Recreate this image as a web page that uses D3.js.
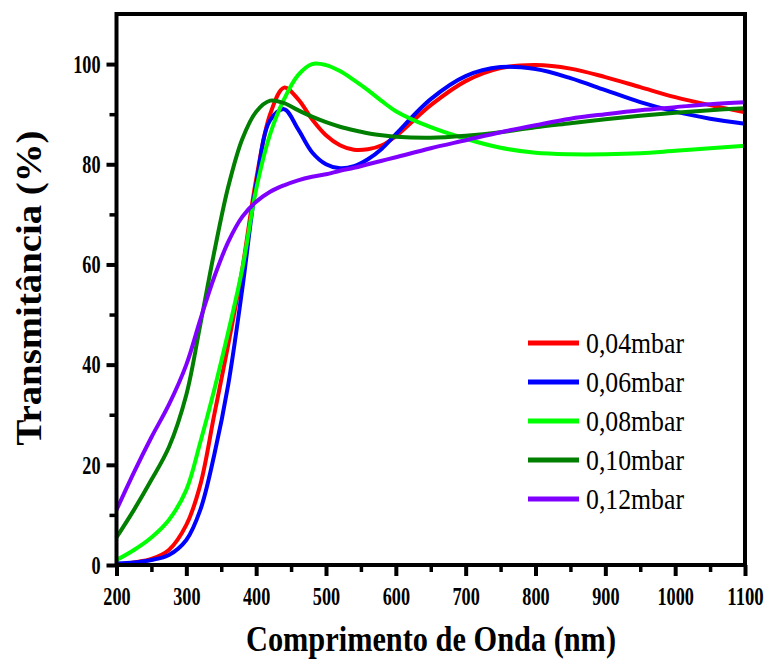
<!DOCTYPE html>
<html>
<head>
<meta charset="utf-8">
<script src="https://cdn.jsdelivr.net/npm/d3@7"></script>
<style>
body { margin: 0; background: #fff; }
text { font-family: "Liberation Serif", "Times New Roman", serif; }
</style>
</head>
<body>
<script>
// wavelength grid (nm)
var wavelengths = [200,225,250,275,300,320,340,360,380,400,420,440,460,480,500,520,540,560,580,600,650,700,750,800,850,900,950,1000,1050,1100];

var t004 = [0,0.5,1.2,3,8,16,30,44,59,77,90,95.3,93,89,85.8,83.8,82.9,83,83.8,85.6,91.8,96.6,99.2,99.8,99.1,97.4,95.4,93.4,91.8,90.4];
var t006 = [0.3,0.5,1,2,5,11,22,36,55,76,88.8,91,87,82.4,80,79.2,79.6,81,83.1,86,93,97.6,99.4,99,97.2,94.8,92.4,90.5,89.1,88.1];
var t008 = [1,3,5.5,9,15,24.5,35,46.5,59,75,86,93,97.8,100,99.8,98.6,96.8,94.8,92.6,90.6,87.4,85.1,83.3,82.3,82,82,82.2,82.7,83.2,83.7];
var t010 = [5.5,11,17,23.5,34,48,62.5,75.5,85,90.5,92.7,92.2,90.8,89.5,88.4,87.5,86.8,86.2,85.8,85.5,85.3,85.7,86.4,87.4,88.2,89,89.7,90.3,90.8,91.2];
var t012 = [11,18.5,25.5,32,40,49,57.5,64.5,69.5,72.5,74.5,75.8,76.8,77.5,78,78.7,79.3,80,80.7,81.4,83.2,84.8,86.4,87.8,89.1,90,90.8,91.4,92,92.4];

var seriesNames = ["0,04mbar", "0,06mbar", "0,08mbar", "0,10mbar", "0,12mbar"];
var seriesValues = [t004, t006, t008, t010, t012];
var seriesColors = ["#ff0000", "#0000ff", "#00ff00", "#007f00", "#8000ff"];

var xTicks = [200,300,400,500,600,700,800,900,1000,1100];
var yTicks = [0,20,40,60,80,100];

var pLeft = 116.5, pRight = 745, pTop = 14, pBottom = 565;

var svg = d3.select("body").append("svg")
    .attr("width", 767)
    .attr("height", 660);

var x = d3.scaleLinear().domain([200, 1100]).range([pLeft, pRight]);
var y = d3.scaleLinear().domain([0, 110]).range([pBottom, pTop]);

// minor ticks
var xMinor = d3.range(250, 1100, 100);
var yMinor = d3.range(10, 110, 20);

svg.append("g")
    .attr("transform", "translate(0," + pBottom + ")")
    .call(d3.axisBottom(x).tickValues(xMinor).tickSize(7).tickFormat(""))
    .call(function(g){ g.select(".domain").remove(); })
    .selectAll("line").attr("stroke-width", 3.5);

svg.append("g")
    .attr("transform", "translate(" + pLeft + ",0)")
    .call(d3.axisLeft(y).tickValues(yMinor).tickSize(7).tickFormat(""))
    .call(function(g){ g.select(".domain").remove(); })
    .selectAll("line").attr("stroke-width", 3.5);

function styleLabels(sel) {
    sel.selectAll("text")
        .attr("font-family", "'Liberation Serif', 'Times New Roman', serif")
        .attr("font-size", 26)
        .attr("font-weight", "bold")
        .attr("fill", "#000")
        .attr("textLength", function(d){ return String(d).length * 9.1; })
        .attr("lengthAdjust", "spacingAndGlyphs");
}

// major ticks + labels
var gx = svg.append("g")
    .attr("transform", "translate(0," + pBottom + ")")
    .call(d3.axisBottom(x).tickValues(xTicks).tickSize(11).tickPadding(11).tickFormat(d3.format("d")));
gx.select(".domain").remove();
gx.selectAll("line").attr("stroke-width", 4);
styleLabels(gx);

var gy = svg.append("g")
    .attr("transform", "translate(" + pLeft + ",0)")
    .call(d3.axisLeft(y).tickValues(yTicks).tickSize(10).tickPadding(6).tickFormat(d3.format("d")));
gy.select(".domain").remove();
gy.selectAll("line").attr("stroke-width", 4);
styleLabels(gy);

// curves
var line = d3.line()
    .x(function(d){ return x(d[0]); })
    .y(function(d){ return y(d[1]); })
    .curve(d3.curveCatmullRom.alpha(0.5));

seriesValues.forEach(function(vals, i) {
    var pts = wavelengths.map(function(w, j){ return [w, vals[j]]; });
    svg.append("path")
        .datum(pts)
        .attr("fill", "none")
        .attr("stroke", seriesColors[i])
        .attr("stroke-width", 4)
        .attr("d", line);
});

// frame
svg.append("rect")
    .attr("x", pLeft)
    .attr("y", pTop)
    .attr("width", pRight - pLeft)
    .attr("height", pBottom - pTop)
    .attr("fill", "none")
    .attr("stroke", "#000")
    .attr("stroke-width", 4);

// legend
var legend = svg.append("g").attr("class", "legend");
seriesNames.forEach(function(name, i) {
    var ly = 343 + i * 39;
    legend.append("line")
        .attr("x1", 528).attr("x2", 579)
        .attr("y1", ly).attr("y2", ly)
        .attr("stroke", seriesColors[i])
        .attr("stroke-width", 5);
    legend.append("text")
        .attr("x", 586)
        .attr("y", ly + 10)
        .attr("font-size", 29)
        .attr("textLength", 98)
        .attr("lengthAdjust", "spacingAndGlyphs")
        .text(name);
});

// axis titles
svg.append("text")
    .attr("x", 431)
    .attr("y", 651)
    .attr("text-anchor", "middle")
    .attr("font-size", 36)
    .attr("font-weight", "bold")
    .attr("textLength", 370)
    .attr("lengthAdjust", "spacingAndGlyphs")
    .text("Comprimento de Onda (nm)");

svg.append("text")
    .attr("transform", "translate(41,288) rotate(-90)")
    .attr("text-anchor", "middle")
    .attr("font-size", 36)
    .attr("font-weight", "bold")
    .attr("textLength", 315)
    .attr("lengthAdjust", "spacingAndGlyphs")
    .text("Transmitância (%)");
</script>
</body>
</html>
